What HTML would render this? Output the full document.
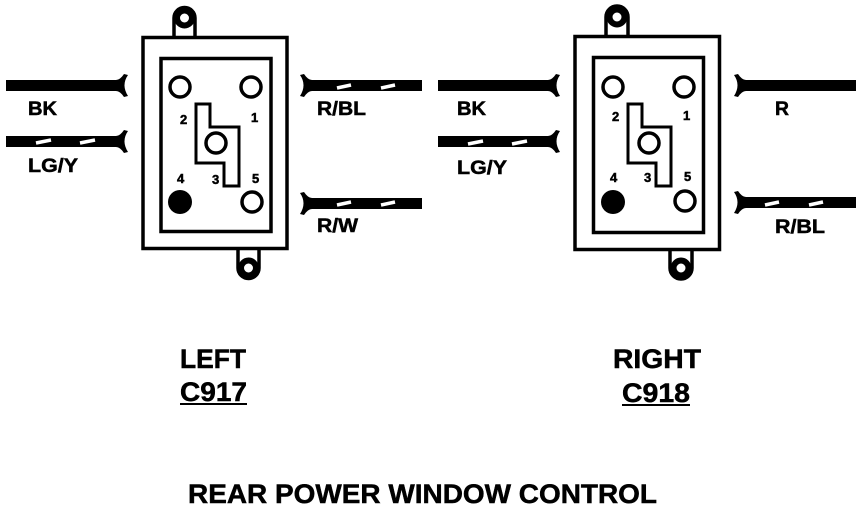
<!DOCTYPE html>
<html><head><meta charset="utf-8"><style>
html,body{margin:0;padding:0;background:#fff;width:864px;height:510px;overflow:hidden}
svg{display:block}
text{font-family:"Liberation Sans",sans-serif;font-weight:bold;fill:#000;stroke:#000;stroke-width:.5}
</style></head><body>
<svg width="864" height="510" viewBox="0 0 864 510" xmlns="http://www.w3.org/2000/svg">
<g fill="none" stroke="#000" stroke-width="3.500">
<!-- LEFT connector -->
<path d="M174 36V18a10.500 10.500 0 0 1 21 0V36" fill="#fff"/>
<circle cx="184.500" cy="18" r="7.500" stroke-width="6"/>
<path d="M238 250V268a10.500 10.500 0 0 0 21 0V250" fill="#fff"/>
<circle cx="248.500" cy="268" r="7.500" stroke-width="6"/>
<rect x="143" y="37.500" width="144" height="211" fill="#fff"/>
<rect x="161" y="58.500" width="110" height="173"/>
<circle cx="180" cy="87" r="10"/><circle cx="251" cy="87" r="10"/>
<circle cx="216" cy="143" r="10"/><circle cx="252" cy="202" r="10"/>
<circle cx="180" cy="202" r="12" fill="#000" stroke="none"/>
<path d="M196 104H210V127H239V186H224V163H196Z" stroke-width="3"/>
<!-- RIGHT connector -->
<path d="M606 36V17a10.500 10.500 0 0 1 22 0V36" fill="#fff"/>
<circle cx="617" cy="17" r="7.500" stroke-width="6"/>
<path d="M670 250V268a10.500 10.500 0 0 0 22 0V250" fill="#fff"/>
<circle cx="681" cy="268" r="7.500" stroke-width="6"/>
<rect x="575" y="36.500" width="144.500" height="213" fill="#fff"/>
<rect x="593.500" y="57.500" width="110" height="175"/>
<circle cx="613" cy="87" r="10"/><circle cx="684" cy="87" r="10"/>
<circle cx="649" cy="143" r="10"/><circle cx="685" cy="201" r="10"/>
<circle cx="613" cy="202" r="12" fill="#000" stroke="none"/>
<path d="M628 104H642V127H671V186H656V163H628Z" stroke-width="3"/>
</g>
<!-- wires -->
<g fill="#000">
<path d="M6 80H116Q120 80 124 74L128 75Q121 85 128 96L124 97Q120 91 116 91H6Z"/>
<path d="M6 136H116Q120 136 124 130L128 131Q121 141 128 152L124 153Q120 147 116 147H6Z"/>
<path d="M422 80H312Q308 80 304 74L300 75Q307 85 300 96L304 97Q308 91 312 91H422Z"/>
<path d="M422 198H312Q308 198 304 192L300 193Q307 203 300 214L304 215Q308 209 312 209H422Z"/>
<path d="M438 80H548Q552 80 556 74L560 75Q553 85 560 96L556 97Q552 91 548 91H438Z"/>
<path d="M438 136H548Q552 136 556 130L560 131Q553 141 560 152L556 153Q552 147 548 147H438Z"/>
<path d="M856 80H746Q742 80 738 74L734 75Q741 85 734 96L738 97Q742 91 746 91H856Z"/>
<path d="M856 197H746Q742 197 738 191L734 192Q741 202 734 213L738 214Q742 208 746 208H856Z"/>
</g>
<!-- stripes -->
<g stroke="#fff" stroke-width="3.500" fill="none">
<path d="M36 143L51 140M80 143L95 140"/>
<path d="M337 88L351 85M381 88L395 85"/>
<path d="M337 205L351 202M381 205L395 202"/>
<path d="M468 144L483 141M512 144L527 141"/>
<path d="M765 205L779 202M809 205L823 202"/>
</g>
<!-- wire labels -->
<g font-size="19">
<text x="28" y="115" textLength="29" lengthAdjust="spacingAndGlyphs">BK</text>
<text x="28" y="172" textLength="50" lengthAdjust="spacingAndGlyphs">LG/Y</text>
<text x="317" y="115" textLength="49" lengthAdjust="spacingAndGlyphs">R/BL</text>
<text x="317" y="232" textLength="41" lengthAdjust="spacingAndGlyphs">R/W</text>
<text x="457" y="115" textLength="29" lengthAdjust="spacingAndGlyphs">BK</text>
<text x="457" y="174" textLength="50" lengthAdjust="spacingAndGlyphs">LG/Y</text>
<text x="775" y="115" textLength="14" lengthAdjust="spacingAndGlyphs">R</text>
<text x="775" y="233" textLength="50" lengthAdjust="spacingAndGlyphs">R/BL</text>
</g>
<!-- pin labels -->
<g font-size="13">
<text x="180" y="124">2</text><text x="251" y="122">1</text>
<text x="177" y="183">4</text><text x="212" y="184">3</text><text x="252" y="183">5</text>
<text x="612" y="121">2</text><text x="683" y="120">1</text>
<text x="610" y="182">4</text><text x="644" y="182">3</text><text x="684" y="181">5</text>
</g>
<!-- captions -->
<g font-size="27">
<text x="180" y="368" textLength="66" lengthAdjust="spacingAndGlyphs">LEFT</text>
<text x="180" y="401" textLength="67" lengthAdjust="spacingAndGlyphs">C917</text>
<text x="613" y="368" textLength="88" lengthAdjust="spacingAndGlyphs">RIGHT</text>
<text x="622" y="402" textLength="68" lengthAdjust="spacingAndGlyphs">C918</text>
<text x="188" y="503" textLength="469" lengthAdjust="spacingAndGlyphs">REAR POWER WINDOW CONTROL</text>
</g>
<rect x="180" y="403" width="67" height="2"/>
<rect x="622" y="404" width="68" height="2"/>
</svg>
</body></html>
